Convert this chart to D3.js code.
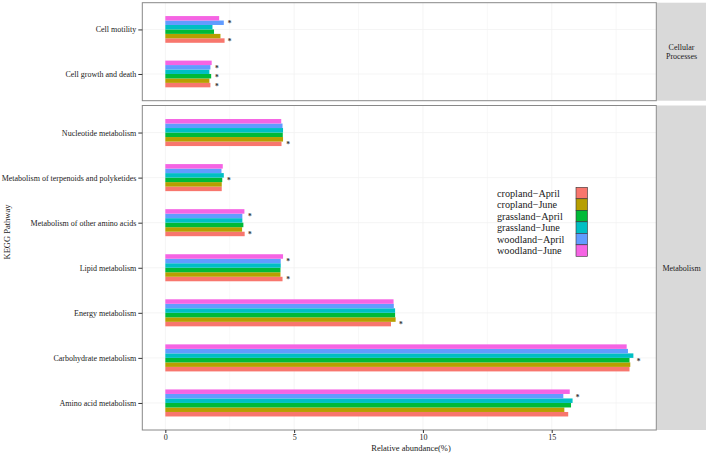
<!DOCTYPE html>
<html><head><meta charset="utf-8">
<script src="https://cdn.jsdelivr.net/npm/d3@7"></script>
<style>
html,body{margin:0;padding:0;background:#fff;}
svg{display:block;font-family:"Liberation Serif","Times New Roman",serif;}
</style></head>
<body><svg id="chart" width="709" height="453"></svg>
<script>
// ---------- data ----------
const groups = ["cropland-April","cropland-June","grassland-April","grassland-June","woodland-April","woodland-June"];
const groupColors = ["#F8766D","#B79F00","#00BA38","#00BFC4","#619CFF","#F564E3"];
const landTypes = ["cropland","grassland","woodland"];

const cellularCategories = ["Cell growth and death","Cell motility"];
const metabolismCategories = ["Amino acid metabolism","Carbohydrate metabolism","Energy metabolism","Lipid metabolism",
  "Metabolism of other amino acids","Metabolism of terpenoids and polyketides","Nucleotide metabolism"];
const allCategories = cellularCategories.concat(metabolismCategories);

// values in order of allCategories
const croplandApril   = [1.75, 2.30, 15.64, 18.02, 8.76, 4.55, 3.08, 2.19, 4.51];
const croplandJune    = [1.71, 2.14, 15.49, 18.05, 8.94, 4.47, 2.98, 2.19, 4.57];
const grasslandApril  = [1.78, 1.89, 15.75, 18.02, 8.92, 4.47, 3.03, 2.21, 4.56];
const grasslandJune   = [1.71, 1.83, 15.81, 18.17, 8.92, 4.48, 2.99, 2.27, 4.57];
const woodlandApril   = [1.75, 2.27, 15.45, 17.96, 8.87, 4.48, 2.99, 2.18, 4.55];
const woodlandJune    = [1.80, 2.09, 15.70, 17.91, 8.86, 4.57, 3.07, 2.23, 4.50];
const seriesValues = [croplandApril, croplandJune, grasslandApril, grasslandJune, woodlandApril, woodlandJune];

// significance marks: [category, land type]
const significance = [
  ["Cell motility","woodland"],["Cell motility","cropland"],
  ["Cell growth and death","woodland"],["Cell growth and death","grassland"],["Cell growth and death","cropland"],
  ["Nucleotide metabolism","cropland"],
  ["Metabolism of terpenoids and polyketides","grassland"],
  ["Metabolism of other amino acids","woodland"],["Metabolism of other amino acids","cropland"],
  ["Lipid metabolism","woodland"],["Lipid metabolism","cropland"],
  ["Energy metabolism","cropland"],
  ["Carbohydrate metabolism","grassland"],
  ["Amino acid metabolism","woodland"]
];
const xTicks = [0,5,10,15];
const facets = [
  {name:"Cellular Processes", lines:["Cellular","Processes"], cats:cellularCategories},
  {name:"Metabolism", lines:["Metabolism"], cats:metabolismCategories}
];
const xTitle = "Relative abundance(%)";
const yTitle = "KEGG Pathway";

// ---------- layout ----------
const svg = d3.select("#chart");
const panelLeft = 142.3, panelRight = 656.3;
const stripLeft = 657, stripRight = 706;
const panelBoxes = [[2.7,100.7],[105.5,430]];
const txt = "#1a1a1a";
const serif = "Liberation Serif, Times New Roman, serif";

const x = d3.scaleLinear().domain([-0.894, 19.06]).range([panelLeft, panelRight]);
const colorScale = d3.scaleOrdinal().domain(groups).range(groupColors);

function val(cat, gi){ return seriesValues[gi][allCategories.indexOf(cat)]; }

facets.forEach((f, fi) => {
  const [top, bottom] = panelBoxes[fi];
  const y = d3.scalePoint().domain(f.cats).range([bottom, top]).padding(0.6);
  const step = y.step();
  const sub = d3.scaleBand().domain(groups).range([0.3*step, -0.3*step]);
  const g = svg.append("g");

  // panel background + grid
  g.append("rect").attr("x",panelLeft).attr("y",top).attr("width",panelRight-panelLeft).attr("height",bottom-top).attr("fill","#fff");
  const minor = [2.5,7.5,12.5,17.5];
  g.selectAll(".gmin").data(minor).join("line")
    .attr("x1",d=>x(d)).attr("x2",d=>x(d)).attr("y1",top).attr("y2",bottom)
    .attr("stroke","#f4f4f4").attr("stroke-width",0.6);
  g.selectAll(".gmaj").data(xTicks).join("line")
    .attr("x1",d=>x(d)).attr("x2",d=>x(d)).attr("y1",top).attr("y2",bottom)
    .attr("stroke","#f1f1f1").attr("stroke-width",0.8);
  g.selectAll(".gh").data(f.cats).join("line")
    .attr("x1",panelLeft).attr("x2",panelRight).attr("y1",d=>y(d)).attr("y2",d=>y(d))
    .attr("stroke","#f1f1f1").attr("stroke-width",0.8);

  // bars
  f.cats.forEach(cat => {
    g.selectAll(null).data(groups).join("rect")
      .attr("x", x(0))
      .attr("y", d => y(cat) + sub(d))
      .attr("width", (d,i) => x(val(cat,i)) - x(0))
      .attr("height", sub.bandwidth())
      .attr("fill", d => colorScale(d));
  });

  // significance asterisks
  const sig = significance.filter(s => f.cats.includes(s[0]));
  g.selectAll(".sig").data(sig).join("text")
    .attr("x", d => x(d3.max(seriesValues, s => s[allCategories.indexOf(d[0])]) + 0.2))
    .attr("y", d => {
      const k = landTypes.indexOf(d[1]);
      return y(d[0]) + (sub(groups[2*k]) + sub(groups[2*k+1]) + sub.bandwidth())/2;
    })
    .attr("dy", "0.75em")
    .attr("text-anchor","middle")
    .attr("font-size", 7.5).attr("font-weight","bold").attr("fill","#333")
    .text("*");

  // border
  g.append("rect").attr("x",panelLeft).attr("y",top).attr("width",panelRight-panelLeft).attr("height",bottom-top)
    .attr("fill","none").attr("stroke","#888").attr("stroke-width",1);

  // y axis
  const yAxis = d3.axisLeft(y).tickSize(4).tickPadding(2);
  const ya = g.append("g").attr("transform",`translate(${panelLeft},0)`).call(yAxis);
  ya.attr("font-family", serif);
  ya.select(".domain").remove();
  ya.selectAll(".tick line").attr("stroke","#333");
  ya.selectAll(".tick text").attr("font-size",8).attr("fill",txt);

  // strip
  g.append("rect").attr("x",stripLeft).attr("y",top).attr("width",stripRight-stripLeft).attr("height",bottom-top)
    .attr("fill","#D9D9D9");
  const cy = (top+bottom)/2, lh = 9.5;
  f.lines.forEach((ln, li) => {
    g.append("text").attr("x",(stripLeft+stripRight)/2)
      .attr("y", cy + (li - (f.lines.length-1)/2)*lh)
      .attr("dy","0.35em").attr("text-anchor","middle")
      .attr("font-size",8).attr("fill",txt).text(ln);
  });

  // x axis on bottom panel
  if (fi === facets.length-1) {
    const xa = g.append("g").attr("transform",`translate(0,${bottom})`)
      .call(d3.axisBottom(x).tickValues(xTicks).tickSize(3).tickPadding(1));
    xa.attr("font-family", serif);
    xa.select(".domain").remove();
    xa.selectAll(".tick line").attr("stroke","#333");
    xa.selectAll(".tick text").attr("font-size",8).attr("fill",txt);
  }
});

// axis titles
svg.append("text").attr("x",411).attr("y",450.5).attr("text-anchor","middle")
  .attr("font-size",8.5).attr("fill",txt).text(xTitle);
svg.append("text").attr("transform","translate(10,232) rotate(-90)").attr("text-anchor","middle")
  .attr("font-size",8.5).attr("fill",txt).text(yTitle);

// legend
const legX = 576, legY = 187.3, key = 11.5;
const leg = svg.append("g");
leg.selectAll("rect").data(groups).join("rect")
  .attr("x",legX).attr("y",(d,i)=>legY+i*key).attr("width",key).attr("height",key)
  .attr("fill",d=>colorScale(d)).attr("stroke","#333").attr("stroke-width",0.6);
leg.selectAll("text").data(groups).join("text")
  .attr("x",497).attr("y",(d,i)=>legY+i*key+key/2).attr("dy","0.35em")
  .attr("font-size",10.2).attr("fill",txt)
  .text(d=>d.replace("-","\u2212"));
</script></body></html>
